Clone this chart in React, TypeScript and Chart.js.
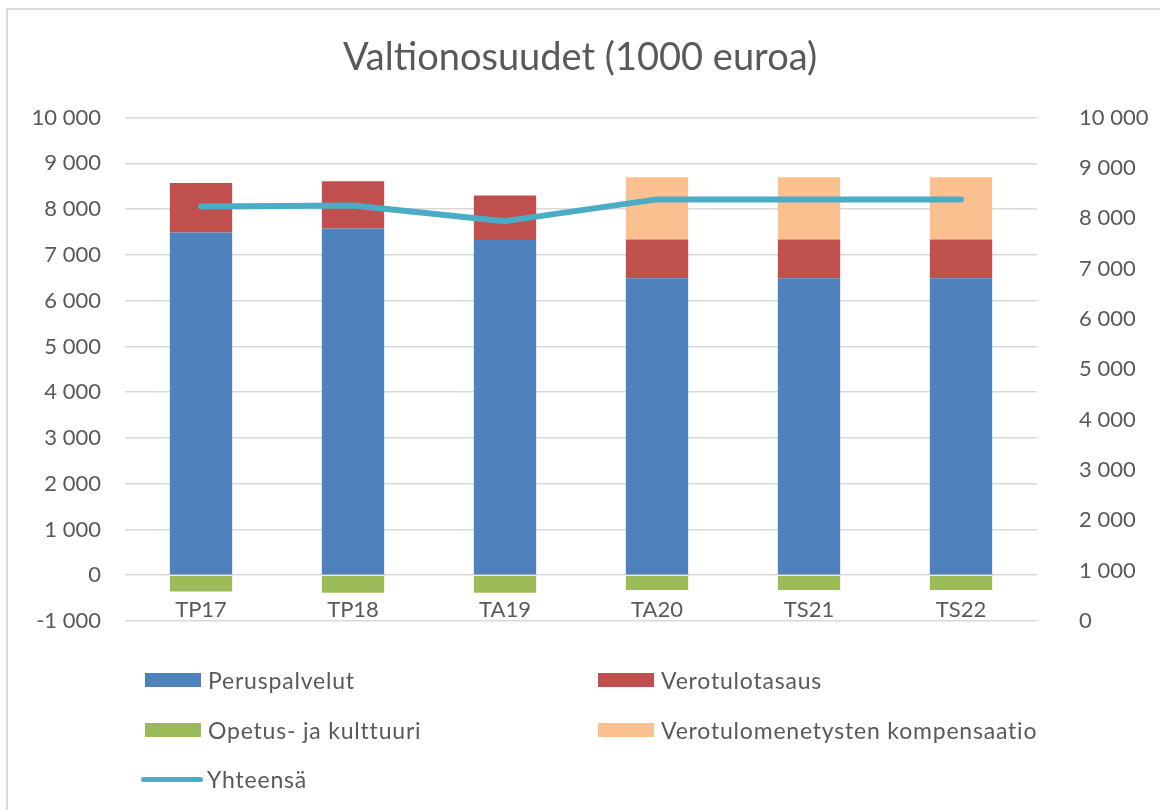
import React, { useEffect, useRef } from "react";
import { Chart, registerables } from "chart.js";

Chart.register(...registerables);

const categories = ["TP17", "TP18", "TA19", "TA20", "TS21", "TS22"];
const peruspalvelut = [7487, 7575, 7326, 6488, 6488, 6488];
const verotulotasaus = [1085, 1034, 971, 846, 846, 846];
const opetusKulttuuri = [-356, -385, -385, -320, -320, -320];
const kompensaatio = [0, 0, 0, 1363, 1363, 1363];
const yhteensa = [8236, 8256, 7943, 8375, 8375, 8375];

const leftTicks = { min: -1000, max: 10000, step: 1000 };
const rightTicks = { min: 0, max: 10000, step: 1000 };

const FONT = "Lato";
const TEXT = "#595959";

function fmt(v: number): string {
  const n = Math.round(Math.abs(v)).toString();
  const s = n.replace(/\B(?=(\d{3})+(?!\d))/g, " ");
  return (v < 0 ? "-" : "") + s;
}

const legendItems = [
  { label: "Peruspalvelut", color: "#4F81BD", kind: "box", x: 145, y: 680 },
  { label: "Verotulotasaus", color: "#C0504D", kind: "box", x: 598, y: 680 },
  { label: "Opetus- ja kulttuuri", color: "#9BBB59", kind: "box", x: 145, y: 730 },
  { label: "Verotulomenetysten kompensaatio", color: "#FAC090", kind: "box", x: 598, y: 730 },
  { label: "Yhteensä", color: "#4BACC6", kind: "line", x: 141, y: 779 },
];

export default function App() {
  const ref = useRef<HTMLCanvasElement | null>(null);

  useEffect(() => {
    if (!ref.current) return;
    const chart = new Chart(ref.current, {
      type: "bar",
      data: {
        labels: categories,
        datasets: [
          {
            type: "line",
            label: "Yhteensä",
            data: yhteensa,
            yAxisID: "y1",
            borderColor: "#4BACC6",
            backgroundColor: "#4BACC6",
            borderWidth: 6,
            pointRadius: 0,
            borderCapStyle: "round",
            borderJoinStyle: "round",
            tension: 0,
            order: 0,
          } as any,
          {
            label: "Peruspalvelut",
            data: peruspalvelut,
            backgroundColor: "#4F81BD",
            yAxisID: "y",
            stack: "s",
            order: 1,
          },
          {
            label: "Verotulotasaus",
            data: verotulotasaus,
            backgroundColor: "#C0504D",
            yAxisID: "y",
            stack: "s",
            order: 1,
          },
          {
            label: "Opetus- ja kulttuuri",
            data: opetusKulttuuri,
            backgroundColor: "#9BBB59",
            yAxisID: "y",
            stack: "s",
            order: 1,
          },
          {
            label: "Verotulomenetysten kompensaatio",
            data: kompensaatio,
            backgroundColor: "#FAC090",
            yAxisID: "y",
            stack: "s",
            order: 1,
          },
        ],
      },
      options: {
        animation: false,
        responsive: false,
        maintainAspectRatio: false,
        layout: { padding: { left: 0, right: 0, top: 0, bottom: 189 } },
        datasets: {
          bar: { barPercentage: 0.41, categoryPercentage: 1 },
        },
        plugins: {
          legend: { display: false },
          tooltip: { enabled: false },
          title: {
            display: true,
            text: "Valtionosuudet (1000 euroa)",
            color: TEXT,
            font: { family: FONT, size: 38, weight: "normal" },
            padding: { top: 35, bottom: 37 },
          },
        },
        scales: {
          x: {
            stacked: true,
            position: { y: 0 } as any,
            grid: { display: false },
            border: { display: false },
            ticks: {
              color: TEXT,
              font: { family: FONT, size: 22 },
              padding: 13,
            },
          },
          y: {
            stacked: true,
            position: "left",
            min: leftTicks.min,
            max: leftTicks.max,
            afterFit: (s: any) => {
              s.width = 125;
            },
            grid: { color: "#d9d9d9", lineWidth: 1.5, drawTicks: false },
            border: { display: false },
            ticks: {
              stepSize: leftTicks.step,
              color: TEXT,
              font: { family: FONT, size: 22 },
              padding: 24,
              callback: (v: any) => fmt(Number(v)),
            },
          },
          y1: {
            position: "right",
            stacked: false,
            min: rightTicks.min,
            max: rightTicks.max,
            afterFit: (s: any) => {
              s.width = 123;
            },
            grid: { drawOnChartArea: false, drawTicks: false },
            border: { display: false },
            ticks: {
              stepSize: rightTicks.step,
              color: TEXT,
              font: { family: FONT, size: 22 },
              padding: 42,
              callback: (v: any) => fmt(Number(v)),
            },
          },
        },
      },
    });
    return () => chart.destroy();
  }, []);

  return (
    <div
      style={{
        position: "absolute",
        left: 0,
        top: 0,
        width: 1160,
        height: 810,
        overflow: "hidden",
        background: "#fff",
      }}
    >
      <canvas ref={ref} width={1160} height={810} style={{ position: "absolute", left: 0, top: 0 }} />
      <div
        style={{
          position: "absolute",
          left: 6,
          top: 8,
          width: 1300,
          height: 1000,
          border: "2px solid #d9d9d9",
          pointerEvents: "none",
        }}
      />
      {legendItems.map((it) => (
        <div
          key={it.label}
          style={{
            position: "absolute",
            left: it.x,
            top: it.y - 15,
            height: 30,
            display: "flex",
            alignItems: "center",
            fontFamily: FONT,
            fontSize: 23,
            letterSpacing: "0.8px",
            color: TEXT,
            whiteSpace: "nowrap",
          }}
        >
          {it.kind === "box" ? (
            <span style={{ display: "inline-block", width: 56, height: 14, background: it.color, marginRight: 7 }} />
          ) : (
            <span
              style={{
                display: "inline-block",
                width: 62,
                height: 5,
                borderRadius: 3,
                background: it.color,
                marginRight: 4,
              }}
            />
          )}
          <span>{it.label}</span>
        </div>
      ))}
    </div>
  );
}
